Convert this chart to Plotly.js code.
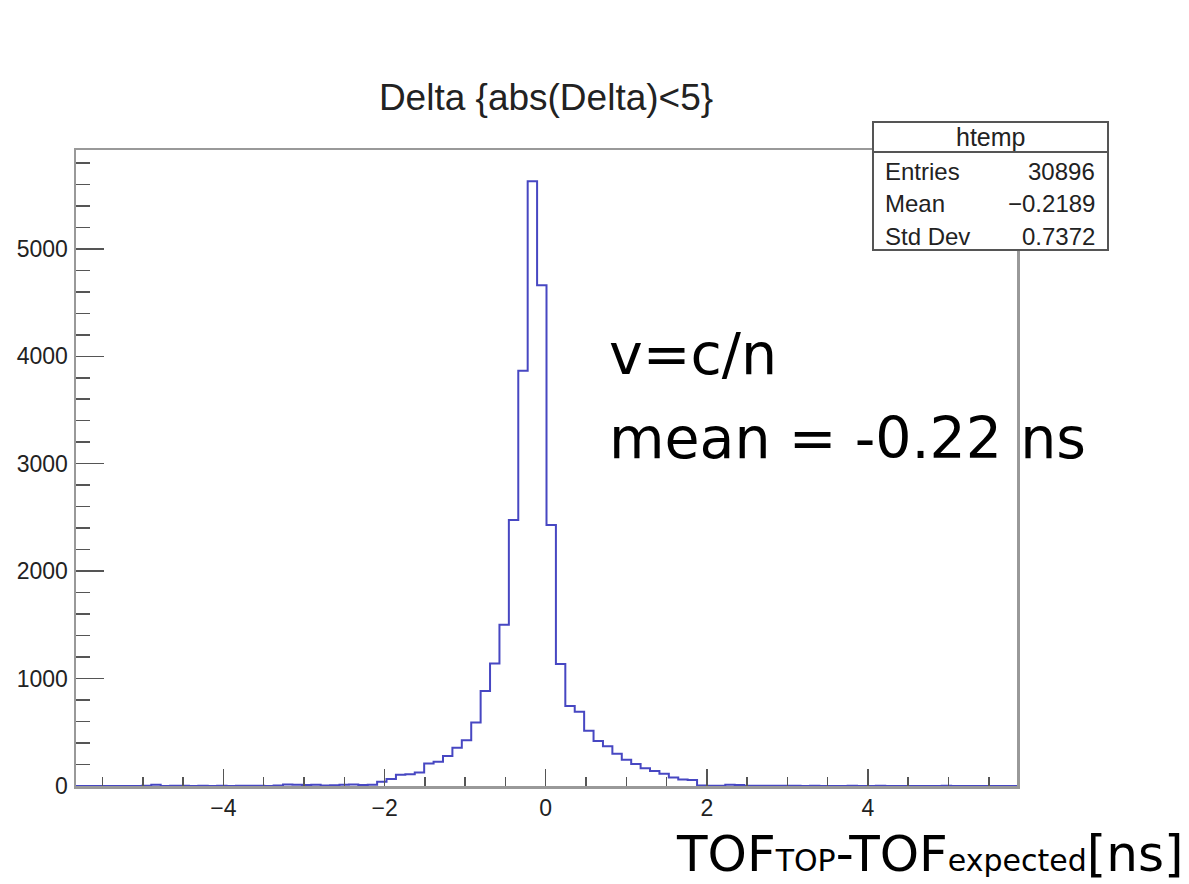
<!DOCTYPE html>
<html>
<head>
<meta charset="utf-8">
<script src="https://cdn.plot.ly/plotly-3.0.1.min.js"></script>
<style>html,body{margin:0;padding:0;background:#fff;}#chart{width:1189px;height:884px;}</style>
</head>
<body>
<div id="chart"></div>
<script>
// ---- data ----
const binLow = -5.83;      // lower edge of first bin
const binWidth = 0.1168;   // bin width
const counts = [
  0, 0, 0, 0, 0, 0, 0, 3, 12, 0,
  3, 3, 0, 2, 0, 3, 0, 3, 3, 3,
  0, 4, 15, 12, 10, 12, 4, 8, 12, 15,
  10, 12, 40, 65, 105, 110, 125, 210, 225, 280,
  355, 425, 590, 885, 1140, 1500, 2475, 3865, 5630, 4660,
  2430, 1135, 745, 690, 515, 420, 370, 300, 245, 205,
  165, 140, 115, 80, 60, 55, 4, 3, 3, 12,
  10, 3, 3, 3, 3, 3, 3, 0, 2, 0,
  0, 0, 2, 0, 0, 2, 0, 0, 0, 0,
  0, 0, 2, 0, 0, 0, 0, 0, 0, 0
];
const chartTitle = "Delta {abs(Delta)<5}";
const statsName = "htemp";
const statLabels = ["Entries", "Mean", "Std Dev"];
const statValues = ["30896", "\u22120.2189", "0.7372"];
const noteLines = ["v=c/n", "mean = -0.22 ns"];
const xTitle = 'TOF<span style="font-size:30px">TOP</span>-TOF<span style="font-size:30px">expected</span>[ns]';

// ---- build step outline ----
const edges = [];
for (let i = 0; i <= counts.length; i++) edges.push(binLow + i * binWidth);
const ys = counts.concat([counts[counts.length - 1]]);

// ---- pixel helpers for layout positions ----
const L = 76, R = 1017, T = 150, B = 786;
const px = v => (v - L) / (R - L);
const py = v => (B - v) / (B - T);

const trace = {
  type: 'scatter', mode: 'lines',
  x: edges, y: ys,
  line: {shape: 'hv', color: '#4747c2', width: 2},
  hoverinfo: 'skip'
};

const shapes = [
  {type: 'rect', xref: 'paper', yref: 'paper', x0: px(873), x1: px(1108), y0: py(250), y1: py(122),
   fillcolor: '#fff', line: {color: '#555', width: 2}, layer: 'above'},
  {type: 'line', xref: 'paper', yref: 'paper', x0: px(873), x1: px(1108), y0: py(152), y1: py(152),
   line: {color: '#555', width: 2}, layer: 'above'}
];

const statFont = {family: 'Liberation Sans, Arial, sans-serif', size: 24, color: '#222'};
const annotations = [
  {xref: 'paper', yref: 'paper', x: px(990), y: py(137), text: statsName, showarrow: false,
   xanchor: 'center', yanchor: 'middle', font: {family: statFont.family, size: 25, color: '#222'}}
];
const rowY = [171, 203, 236];
statLabels.forEach((lab, i) => {
  annotations.push({xref: 'paper', yref: 'paper', x: px(883), y: py(rowY[i]), text: lab, showarrow: false,
    xanchor: 'left', yanchor: 'middle', font: statFont});
  annotations.push({xref: 'paper', yref: 'paper', x: px(1097), y: py(rowY[i]), text: statValues[i], showarrow: false,
    xanchor: 'right', yanchor: 'middle', font: statFont});
});
const noteFont = {family: 'DejaVu Sans, sans-serif', size: 57, color: '#000'};
annotations.push({xref: 'paper', yref: 'paper', x: px(607), y: py(354), text: noteLines[0], showarrow: false,
  xanchor: 'left', yanchor: 'middle', font: noteFont});
annotations.push({xref: 'paper', yref: 'paper', x: px(607), y: py(438), text: noteLines[1], showarrow: false,
  xanchor: 'left', yanchor: 'middle', font: noteFont});
annotations.push({xref: 'paper', yref: 'paper', x: px(1186), y: py(854), text: xTitle, showarrow: false,
  xanchor: 'right', yanchor: 'middle', font: {family: 'DejaVu Sans, sans-serif', size: 50, color: '#000'}});

const tickFont = {family: 'Liberation Sans, Arial, sans-serif', size: 23, color: '#222'};
const layout = {
  width: 1189, height: 884,
  margin: {l: L, r: 1189 - R, t: T, b: 884 - B, pad: 0},
  paper_bgcolor: '#fff', plot_bgcolor: '#fff',
  showlegend: false,
  title: {text: chartTitle, x: 546 / 1189, xanchor: 'center', y: 1 - 97 / 884, yanchor: 'middle',
          font: {family: 'Liberation Sans, Arial, sans-serif', size: 37, color: '#222'}},
  xaxis: {
    range: [binLow, binLow + counts.length * binWidth],
    showgrid: false, zeroline: false,
    showline: true, linecolor: '#999', linewidth: 2.5, mirror: true,
    ticks: 'inside', ticklen: 17, tickwidth: 1.5, tickcolor: '#555',
    tick0: 0, dtick: 2,
    minor: {ticks: 'inside', ticklen: 9, tickwidth: 1.5, tickcolor: '#555', dtick: 0.5, tick0: 0},
    tickfont: tickFont, ticklabelstandoff: 0
  },
  yaxis: {
    range: [0, 5920],
    showgrid: false, zeroline: false,
    showline: true, linecolor: '#999', linewidth: 2.5, mirror: true,
    ticks: 'inside', ticklen: 28, tickwidth: 1.5, tickcolor: '#555',
    tick0: 0, dtick: 1000, tickformat: 'd',
    minor: {ticks: 'inside', ticklen: 14, tickwidth: 1.5, tickcolor: '#555', dtick: 200, tick0: 0},
    tickfont: tickFont, ticklabelstandoff: 1
  },
  shapes: shapes,
  annotations: annotations
};

Plotly.newPlot('chart', [trace], layout, {staticPlot: true, displayModeBar: false});
</script>
</body>
</html>
